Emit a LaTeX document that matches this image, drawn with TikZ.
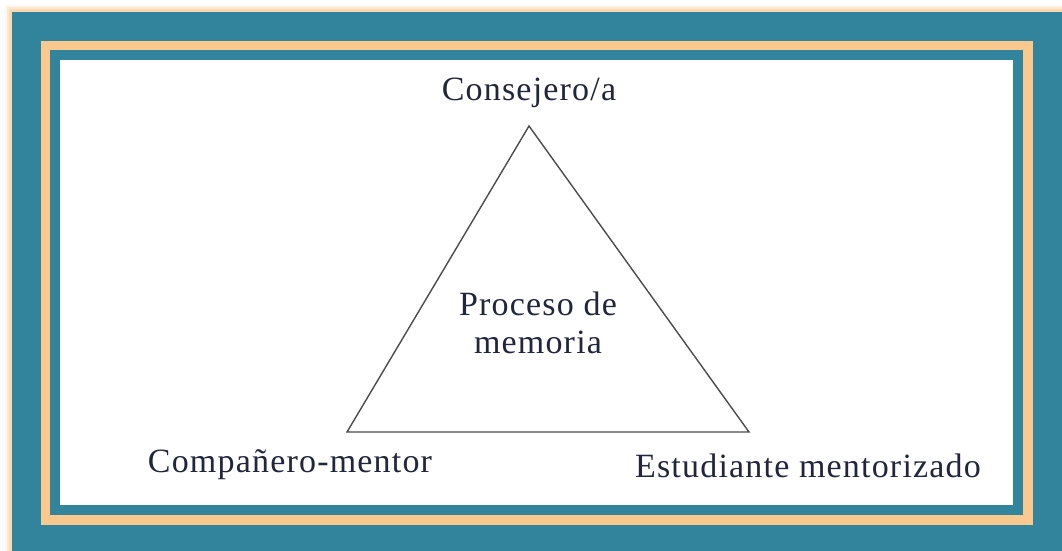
\documentclass[tikz,border=0pt]{standalone}
\usepackage{fontspec}
\setmainfont{Liberation Serif}[LetterSpace=3.5]
\definecolor{frameteal}{HTML}{31849B}
\definecolor{frameorange}{HTML}{FBC98E}
\definecolor{inktext}{HTML}{22263A}
\tikzset{
  lbl/.style={text=inktext,font=\fontsize{34}{38}\selectfont,align=center,inner sep=0pt},
  edge/.style={draw=black!70,line width=1.4pt}
}
\begin{document}
\begin{tikzpicture}[x=1pt,y=-1pt]
 \useasboundingbox (0,0) rectangle (1062,550);
 % glow and frame
 \foreach \w/\o in {14/0.15,10/0.3,6/0.5}
   \draw[frameorange,opacity=\o,line width=\w pt](12,12) rectangle (1062,560);
 \fill[frameteal](12,12) rectangle (1062,560);
 \fill[frameorange](41,41) rectangle (1033,525);
 \fill[frameteal](50,50) rectangle (1023,515);
 \fill[white](60,60) rectangle (1013,505);
 % triangle
 \coordinate (top) at (529,126);
 \coordinate (left) at (347,432);
 \coordinate (right) at (749,432);
 \draw[edge,line join=miter] (top) -- (left) -- (right) -- cycle;
 % labels
 \node[lbl] (consejero) at (529,93) {Consejero/a};
 \node[lbl] (proceso) at (538,323) {Proceso de\\memoria};
 \node[lbl] (companero) at (290,465) {Compañero-mentor};
 \node[lbl] (estudiante) at (808,466) {Estudiante mentorizado};
\end{tikzpicture}
\end{document}
